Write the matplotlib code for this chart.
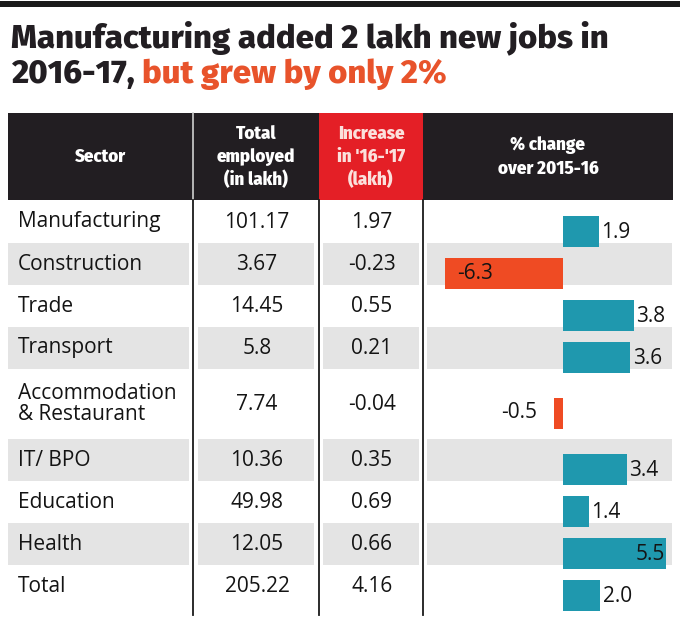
import matplotlib
matplotlib.use("Agg")
import matplotlib.pyplot as plt
from matplotlib.patches import Rectangle

# ---- data ----
sectors = ["Manufacturing", "Construction", "Trade", "Transport",
           "Accommodation\n& Restaurant", "IT/ BPO", "Education", "Health", "Total"]
total_employed = ["101.17", "3.67", "14.45", "5.8", "7.74", "10.36", "49.98", "12.05", "205.22"]
increase = ["1.97", "-0.23", "0.55", "0.21", "-0.04", "0.35", "0.69", "0.66", "4.16"]
pct_change = [1.9, -6.3, 3.8, 3.6, -0.5, 3.4, 1.4, 5.5, 2.0]

title_1 = "Manufacturing added 2 lakh new jobs in"
title_2a = "2016-17, "
title_2b = "but grew by only 2%"
headers = ["Sector", "Total\nemployed\n(in lakh)", "Increase\nin '16-'17\n(lakh)", "% change\nover 2015-16"]

# ---- style ----
DARK = "#221e22"
RED = "#e41f26"
ORANGE = "#ef4b23"
TEAL = "#1f98ae"
GRAY = "#e4e4e4"
TXT = "#141414"
TITLE_FONT = ["Fira Sans", "Roboto", "DejaVu Sans"]
HEAD_FONT = ["Fira Sans Condensed", "Roboto Condensed", "DejaVu Sans"]
BODY_FONT = ["Open Sans", "Noto Sans", "DejaVu Sans"]
BODY_SIZE = 15
BODY_WEIGHT = 500

W, H = 680, 629
fig = plt.figure(figsize=(W / 100, H / 100), dpi=100)
ax = fig.add_axes([0, 0, 1, 1])
ax.set_xlim(0, W)
ax.set_ylim(H, 0)
ax.axis("off")

# top rule
ax.add_patch(Rectangle((0, 1), W, 6, color="#1a1a1a", lw=0))

# title (size fitted so the first line spans the reference width)
tkw = dict(fontweight="heavy", family=TITLE_FONT, va="baseline", ha="left")
t1 = ax.text(11, 47, title_1, fontsize=21, color=DARK, **tkw)
fig.canvas.draw()
w1 = t1.get_window_extent().width
tsize = 21 * 598 / w1
t1.set_fontsize(tsize)
t2 = ax.text(11, 83, title_2a, fontsize=tsize, color=DARK, **tkw)
fig.canvas.draw()
bb = t2.get_window_extent()
x_next = ax.transData.inverted().transform((bb.x1, bb.y0))[0]
ax.text(x_next, 83, title_2b, fontsize=tsize, color="#e8532b", **tkw)

# header
col_lines = [193, 319, 423]
left, right = 8, 673
h_top, h_bot = 113, 200
ax.add_patch(Rectangle((left, h_top), right - left, h_bot - h_top, color=DARK, lw=0))
ax.add_patch(Rectangle((col_lines[1], h_top), col_lines[2] - col_lines[1], h_bot - h_top, color=RED, lw=0))
ax.plot([col_lines[0], col_lines[0]], [h_top, h_bot], color="#d0d0d0", lw=1.2)

head_x = [101, 256, 371, 548]
head_col = ["white", "white", "#fbe0dc", "white"]
for i, (hx, htxt) in enumerate(zip(head_x, headers)):
    lines = htxt.split("\n")
    n = len(lines)
    for j, ln in enumerate(lines):
        y = 157 + (j - (n - 1) / 2) * 23
        ax.text(hx, y, ln, fontsize=13.5, fontweight="heavy", family=HEAD_FONT,
                color=head_col[i], ha="center", va="center")

# body rows
row_edges = [201, 243, 285, 327, 369, 439, 481, 523, 565, 607]
centers = [(a + b) / 2 for a, b in zip(row_edges[:-1], row_edges[1:])]
cells = [(8, col_lines[0] - 4), (col_lines[0] + 5, col_lines[1] - 5),
         (col_lines[1] + 4, col_lines[2] - 4), (col_lines[2] + 4, 672)]
bkw = dict(fontsize=BODY_SIZE, fontweight=BODY_WEIGHT, family=BODY_FONT, color=TXT, va="center")
for i in range(len(sectors)):
    if i % 2 == 1:
        for (a, b) in cells:
            ax.add_patch(Rectangle((a, row_edges[i]), b - a, row_edges[i + 1] - row_edges[i],
                                   color=GRAY, lw=0, zorder=0))
    ax.text(18, centers[i], sectors[i], ha="left", linespacing=1.05, **bkw)
    ax.text(257, centers[i], total_employed[i], ha="center", **bkw)
    ax.text(372, centers[i], increase[i], ha="center", **bkw)

for x in col_lines:
    ax.plot([x, x], [h_bot, 615], color="#1a1a1a", lw=1.3, zorder=3)

# bars axes (pixel-aligned in y)
b_left, b_right, b_top, b_bot = 425, 672, 201, 615
bax = fig.add_axes([b_left / W, 1 - b_bot / H, (b_right - b_left) / W, (b_bot - b_top) / H])
bax.patch.set_alpha(0)
bax.axis("off")
zero_px, px_per_unit = 563, 18.7
bax.set_xlim((b_left - zero_px) / px_per_unit, (b_right - zero_px) / px_per_unit)
bax.set_ylim(b_bot, b_top)

bar_y = [c + 9 for c in centers]
colors = [TEAL if v >= 0 else ORANGE for v in pct_change]
bax.barh(bar_y, pct_change, height=31, color=colors, lw=0)
xmax = bax.get_xlim()[1]
for y, v in zip(bar_y, pct_change):
    lab = f"{v:.1f}"
    if v >= 0:
        if v + 1.6 > xmax:
            bax.text(v - 0.05, y + 1, lab, ha="right", **bkw)
        else:
            bax.text(v + 0.12, y + 1, lab, ha="left", **bkw)
    else:
        if v < -3:
            bax.text(v + 0.65, y, lab, ha="left", **bkw)
        else:
            bax.text(v - 0.9, y, lab, ha="right", **bkw)

fig.savefig("out.png", dpi=100)
